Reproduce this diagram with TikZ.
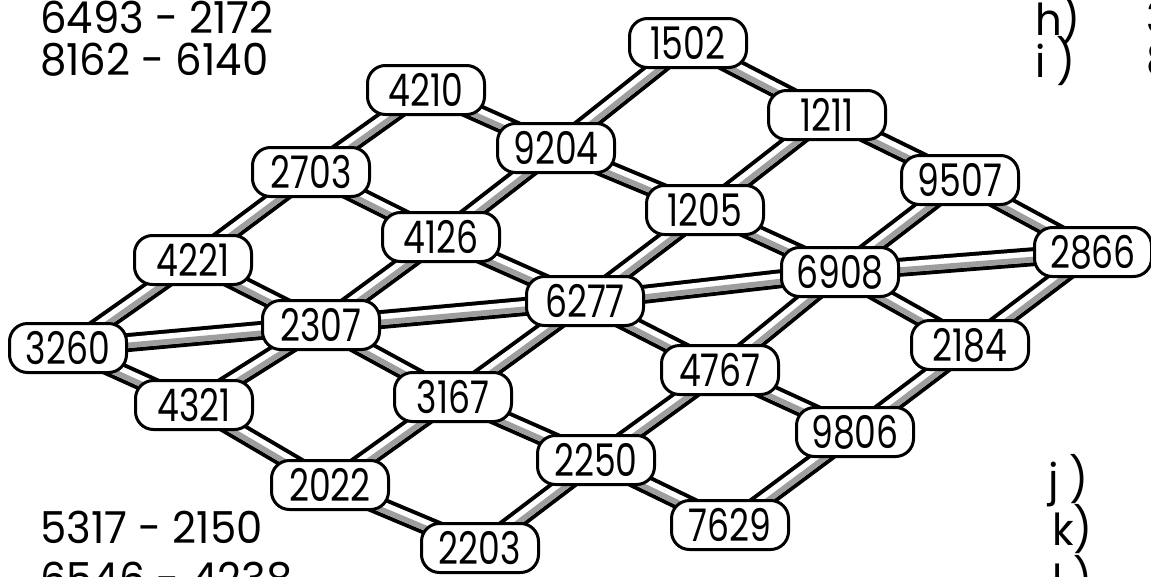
\documentclass[tikz,border=0pt]{standalone}
\usepackage{fontspec}
\setmainfont{Poppins}[FakeStretch=0.77]
\newfontfamily\sidefont{Poppins}[FakeStretch=0.95]
\usetikzlibrary{calc}
\pgfdeclarelayer{bg}
\pgfsetlayers{bg,main}
\definecolor{pipegray}{gray}{0.62}
\tikzset{
  num/.style={draw, line width=3pt, rounded corners=18pt, fill=white,
    minimum width=117pt, minimum height=49pt, inner sep=0pt,
    text height=33pt, text depth=0pt, font=\fontsize{45}{45}\selectfont},
  txt/.style={anchor=base west, inner sep=0pt, font=\sidefont\fontsize{44}{44}\selectfont},
  pipeout/.style={line width=19pt, black},
  pipein/.style={line width=11pt, white},
  pipestripe/.style={line width=5.5pt, pipegray},
}
\newcommand\pipe[2]{%
  \draw[pipeout] (#1.center) -- (#2.center);
  \draw[pipein] (#1.center) -- (#2.center);
  \draw[pipestripe] ($(#1.center)!2.75pt!-90:(#2.center)$) -- ($(#2.center)!2.75pt!90:(#1.center)$);
}
\begin{document}
\begin{tikzpicture}[x=1pt,y=-1pt]
\useasboundingbox (0,0) rectangle (1151,576);
\clip (0,0) rectangle (1151,576);
% nodes
\node[num] (n1502) at (688,43) {1502};
\node[num] (n4210) at (426,90) {4210};
\node[num] (n1211) at (827,115) {1211};
\node[num] (n9204) at (556,148) {9204};
\node[num] (n2703) at (311,172) {2703};
\node[num] (n9507) at (960,180) {9507};
\node[num] (n1205) at (705,210) {1205};
\node[num] (n4126) at (441,237) {4126};
\node[num] (n2866) at (1093,252) {2866};
\node[num] (n4221) at (193,260) {4221};
\node[num] (n6908) at (840,272) {6908};
\node[num] (n6277) at (585,301) {6277};
\node[num] (n2307) at (321,325) {2307};
\node[num] (n3260) at (68,348) {3260};
\node[num] (n2184) at (970,345) {2184};
\node[num] (n4767) at (720,370) {4767};
\node[num] (n4321) at (194,405) {4321};
\node[num] (n3167) at (453,397) {3167};
\node[num] (n9806) at (855,432) {9806};
\node[num] (n2250) at (596,460) {2250};
\node[num] (n2022) at (330,485) {2022};
\node[num] (n7629) at (730,525) {7629};
\node[num] (n2203) at (480,548) {2203};
% pipes
\begin{pgfonlayer}{bg}
\pipe{n3260}{n4221}\pipe{n4221}{n2703}\pipe{n2703}{n4210}
\pipe{n4321}{n2307}\pipe{n2307}{n4126}\pipe{n4126}{n9204}\pipe{n9204}{n1502}
\pipe{n2022}{n3167}\pipe{n3167}{n6277}\pipe{n6277}{n1205}\pipe{n1205}{n1211}
\pipe{n2203}{n2250}\pipe{n2250}{n4767}\pipe{n4767}{n6908}\pipe{n6908}{n9507}
\pipe{n7629}{n9806}\pipe{n9806}{n2184}\pipe{n2184}{n2866}
\pipe{n3260}{n4321}\pipe{n4321}{n2022}\pipe{n2022}{n2203}
\pipe{n4221}{n2307}\pipe{n2307}{n3167}\pipe{n3167}{n2250}\pipe{n2250}{n7629}
\pipe{n2703}{n4126}\pipe{n4126}{n6277}\pipe{n6277}{n4767}\pipe{n4767}{n9806}
\pipe{n4210}{n9204}\pipe{n9204}{n1205}\pipe{n1205}{n6908}\pipe{n6908}{n2184}
\pipe{n1502}{n1211}\pipe{n1211}{n9507}\pipe{n9507}{n2866}
\pipe{n3260}{n2307}\pipe{n2307}{n6277}\pipe{n6277}{n6908}\pipe{n6908}{n2866}
\end{pgfonlayer}
% side texts
\node[txt] (t1) at (40,33) {6493 - 2172};
\node[txt] (t2) at (40,75) {8162 - 6140};
\node[txt] (t3) at (40,543) {5317 - 2150};
\node[txt] (t4) at (40,594) {6546 - 4238};
\node[txt] (th) at (1035,35) {h)};
\node[txt] (ti) at (1035,77) {i )};
\node[txt] (tj) at (1048,495) {j )};
\node[txt] (tk) at (1052,545) {k)};
\node[txt] (tl) at (1052,596) {l )};
\node[txt] (th2) at (1146,33) {3};
\node[txt] (ti2) at (1146,75) {8};
\end{tikzpicture}
\end{document}
